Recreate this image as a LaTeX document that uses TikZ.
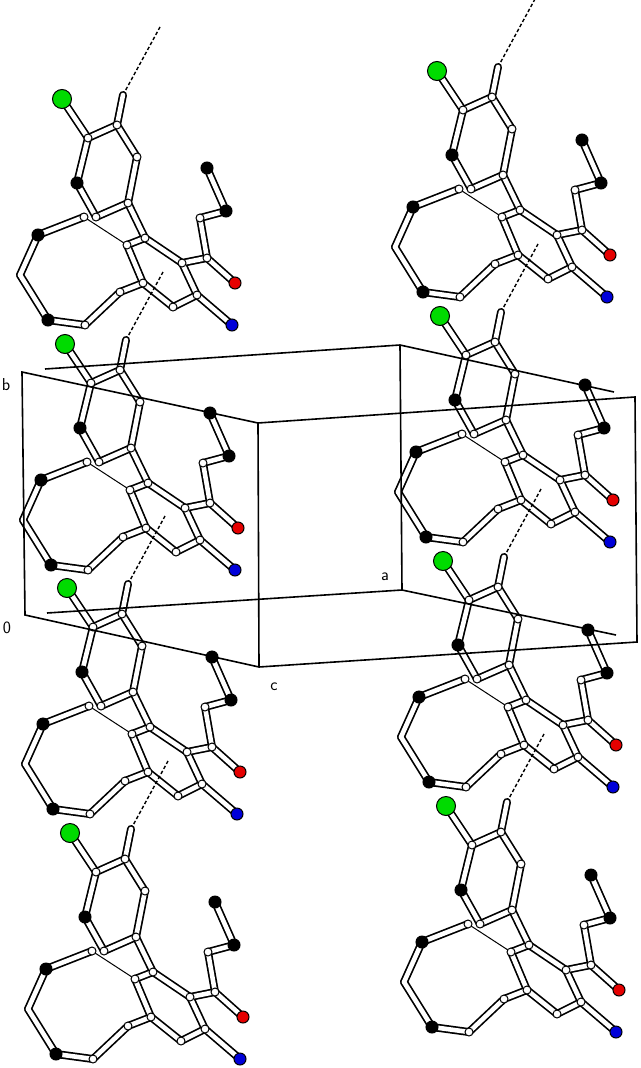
\documentclass[tikz,border=0pt]{standalone}
\begin{document}
\begin{tikzpicture}[x=1pt,y=-1pt,
  bondo/.style={line width=8pt,black,line cap=round},
  bondi/.style={line width=4.6pt,white,line cap=round},
  thinb/.style={line width=1pt,black},
  hb/.style={line width=1.4pt,black,dash pattern=on 3.5pt off 2.2pt},
  catom/.style={circle,draw,line width=1pt,fill=white,inner sep=0pt,minimum size=8pt},
  batom/.style={circle,draw,line width=1pt,fill=black,inner sep=0pt,minimum size=12pt},
  clatom/.style={circle,draw,line width=1pt,fill=green!80!black!70!green,inner sep=0pt,minimum size=19pt},
  oatom/.style={circle,draw,line width=1pt,fill=red!90!black,inner sep=0pt,minimum size=12pt},
  natom/.style={circle,draw,line width=1pt,fill=blue!85!black,inner sep=0pt,minimum size=12pt},
  cell/.style={line width=1.6pt,black},
  lab/.style={font=\sffamily\LARGE,inner sep=0pt}]
\useasboundingbox (0,0) rectangle (640,1068);
\clip (0,0) rectangle (640,1068);
\newcommand\molec[3]{%
\begin{scope}[shift={(#2,#3)}]
 \coordinate (#1Cl) at (62,99);
 \coordinate (#1a1) at (88,138);
 \coordinate (#1a2) at (117,125);
 \coordinate (#1H) at (123,95);
 \coordinate (#1a3) at (137,157);
 \coordinate (#1a4) at (128,203);
 \coordinate (#1a5) at (96,217);
 \coordinate (#1a6) at (77,183);
 \coordinate (#1c1) at (145,238);
 \coordinate (#1c2) at (127,245);
 \coordinate (#1c3) at (143,283);
 \coordinate (#1c4) at (182,263);
 \coordinate (#1e1) at (207,258);
 \coordinate (#1Or) at (235,283);
 \coordinate (#1Oe) at (200,218);
 \coordinate (#1m1) at (226,211);
 \coordinate (#1m2) at (207,168);
 \coordinate (#1p1) at (197,295);
 \coordinate (#1Np) at (173,307);
 \coordinate (#1Nb) at (232,325);
 \coordinate (#1r1) at (120,292);
 \coordinate (#1r2) at (85,325);
 \coordinate (#1r3) at (48,320);
 \coordinate (#1r4) at (20,275);
 \coordinate (#1r5) at (38,235);
 \coordinate (#1r6) at (84,217);
 \coordinate (#1hb) at (160,27);
 \draw[hb] (#1H) -- (#1hb);
 \draw[thinb] (#1r6) -- (#1c2);
 \foreach \s in {bondo,bondi}{
 \foreach \u/\v in {Cl/a1,a1/a2,a2/H,a2/a3,a3/a4,a4/a5,a5/a6,a6/a1,a4/c1,c1/c2,c1/c4,c2/c3,c3/Np,c3/r1,r1/r2,r2/r3,r3/r4,r4/r5,r5/r6,c4/e1,e1/Or,e1/Oe,Oe/m1,m1/m2,c4/p1,p1/Np,p1/Nb}
  \draw[\s] (#1\u) -- (#1\v);}
 \foreach \u in {a1,a2,a3,a4,a5,c1,c2,c3,c4,e1,p1,r1,r2,r6,Oe,Np}
  \node[catom] at (#1\u) {};
 \foreach \u in {a6,m1,m2,r3,r5}
  \node[batom] at (#1\u) {};
 \node[clatom] at (#1Cl) {};
 \node[oatom] at (#1Or) {};
 \node[natom] at (#1Nb) {};
\end{scope}}
\molec{A}{0}{0}
\molec{B}{3}{245}
\molec{C}{5}{489}
\molec{D}{8}{734}
\molec{E}{375}{-28}
\molec{F}{378}{217}
\molec{G}{381}{462}
\molec{K}{384}{707}
% unit cell
\coordinate (P1) at (22,372);
\coordinate (P2) at (258,423);
\coordinate (P3) at (635,397);
\coordinate (P4) at (400,345);
\coordinate (P5) at (614,392);
\coordinate (Q1) at (25,615);
\coordinate (Q2) at (259,667);
\coordinate (Q3) at (637,642);
\coordinate (Q4) at (402,590);
\coordinate (Q5) at (616,635);
\coordinate (P6) at (45,369);
\coordinate (Q6) at (47,613);
\draw[cell] (P1) -- (P2) -- (P3) -- (Q3) -- (Q2) -- (Q1) -- cycle;
\draw[cell] (P2) -- (Q2);
\draw[cell] (P6) -- (P4) -- (P5);
\draw[cell] (Q6) -- (Q4) -- (Q5);
\draw[cell] (P4) -- (Q4);
\node[lab] (lb) at (6,385) {b};
\node[lab] (l0) at (7,628) {0};
\node[lab] (la) at (385,577) {a};
\node[lab] (lc) at (274,687) {c};
\end{tikzpicture}
\end{document}
